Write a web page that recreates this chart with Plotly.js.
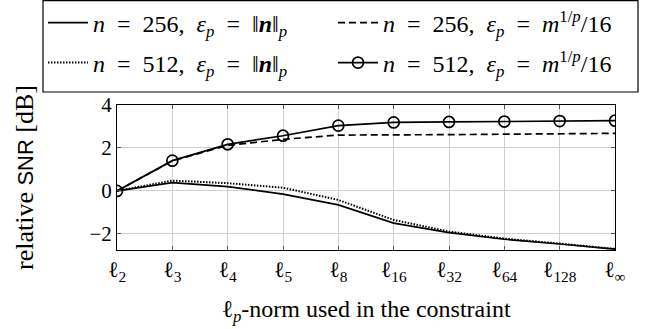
<!DOCTYPE html>
<html><head><meta charset="utf-8">
<script src="https://cdn.plot.ly/plotly-3.0.1.min.js"></script>
<style>body{margin:0;background:#fff}</style></head>
<body><div id="chart" style="width:649px;height:329px"></div>
<script>
const categories = ['l2','l3','l4','l5','l8','l16','l32','l64','l128','linf'];
const tickLabels = ['ℓ<sub>2</sub>','ℓ<sub>3</sub>','ℓ<sub>4</sub>','ℓ<sub>5</sub>','ℓ<sub>8</sub>','ℓ<sub>16</sub>','ℓ<sub>32</sub>','ℓ<sub>64</sub>','ℓ<sub>128</sub>','ℓ<sub>∞</sub>'];
const n256Norm = [0, 0.39, 0.20, -0.15, -0.65, -1.50, -1.94, -2.25, -2.47, -2.71];
const n256Root = [0, 1.40, 2.12, 2.40, 2.60, 2.60, 2.62, 2.64, 2.66, 2.68];
const n512Norm = [0, 0.48, 0.36, 0.15, -0.42, -1.35, -1.89, -2.22, -2.45, -2.70];
const n512Root = [0, 1.41, 2.17, 2.57, 3.04, 3.19, 3.21, 3.23, 3.25, 3.27];
const S = '\u2002'; // en space, mimics TeX math spacing
const seriesNames = [
  '<i>n</i>' + S + '=' + S + '256,' + S + '<i>ε<sub>p</sub></i>' + S + '=' + S + '‖<b><i>n</i></b>‖<sub><i>p</i></sub>',
  '<i>n</i>' + S + '=' + S + '256,' + S + '<i>ε<sub>p</sub></i>' + S + '=' + S + '<i>m</i><sup>1/<i>p</i></sup>/16',
  '<i>n</i>' + S + '=' + S + '512,' + S + '<i>ε<sub>p</sub></i>' + S + '=' + S + '‖<b><i>n</i></b>‖<sub><i>p</i></sub>',
  '<i>n</i>' + S + '=' + S + '512,' + S + '<i>ε<sub>p</sub></i>' + S + '=' + S + '<i>m</i><sup>1/<i>p</i></sup>/16'
];
const serif = '"Liberation Serif", "Times New Roman", serif';
const sans = "'Liberation Sans', Arial, sans-serif";
const serifSpan = "'Liberation Serif', serif";
const traces = [
  {x: categories, y: n256Norm, name: seriesNames[0], legend: 'legend', mode: 'lines', line: {color: '#000', width: 1.7}},
  {x: categories, y: n256Root, name: seriesNames[1], legend: 'legend', mode: 'lines', line: {color: '#000', width: 1.7, dash: '7px,4px'}},
  {x: categories, y: n512Norm, name: seriesNames[2], legend: 'legend2', mode: 'lines', line: {color: '#000', width: 2, dash: '1.5px,1.5px'}},
  {x: categories, y: n512Root, name: seriesNames[3], legend: 'legend2', mode: 'lines+markers', line: {color: '#000', width: 1.7},
   marker: {symbol: 'circle-open', size: 11, color: '#000', line: {width: 1.7, color: '#000'}}}
];
function legendRow(yCenter) {
  return {
    orientation: 'h', xref: 'paper', yref: 'paper',
    x: (43 - 117) / 498, xanchor: 'left', y: (250 - yCenter) / 145, yanchor: 'middle',
    entrywidth: 235, entrywidthmode: 'pixels',
    borderwidth: 0, bgcolor: 'rgba(0,0,0,0)',
    font: {family: serif, size: 24, color: '#000'},
    itemwidth: 40
  };
}
const layout = {
  width: 649, height: 329,
  margin: {l: 117, r: 34, t: 105, b: 79, autoexpand: false},
  paper_bgcolor: '#fff', plot_bgcolor: '#fff',
  font: {family: serif, size: 20, color: '#000'},
  showlegend: true,
  legend: legendRow(23),
  legend2: legendRow(63),
  shapes: [{type: 'rect', xref: 'paper', yref: 'paper',
    x0: (43 - 117) / 498, x1: (638 - 117) / 498, y0: (250 - 92) / 145, y1: (250 - 0.6) / 145,
    line: {color: '#000', width: 1.2}, fillcolor: 'rgba(0,0,0,0)', layer: 'above'}],
  xaxis: {
    type: 'category', range: [0, 9], tickvals: categories, ticktext: tickLabels,
    showgrid: true, gridcolor: '#cfcfcf', gridwidth: 1, automargin: false,
    showline: true, linecolor: '#000', linewidth: 1, mirror: 'ticks',
    ticks: 'inside', ticklen: 4, tickcolor: '#555',
    tickfont: {family: serif, size: 22}, zeroline: false,
    title: {text: 'ℓ<sub><i>p</i></sub>-norm used in the constraint', font: {family: serif, size: 24}, standoff: 16}
  },
  yaxis: {
    range: [-2.75, 4], tickvals: [-2, 0, 2, 4], automargin: false,
    showgrid: true, gridcolor: '#cfcfcf', gridwidth: 1,
    showline: true, linecolor: '#000', linewidth: 1, mirror: 'ticks',
    ticks: 'inside', ticklen: 4, tickcolor: '#555',
    tickfont: {family: serif, size: 21}, zeroline: false,
    title: {text: '<span style="font-family:' + serifSpan + '">relative </span><span style="font-family:' + sans + ';font-size:22px">SNR</span><span style="font-family:' + serifSpan + '"> [dB]</span>',
            font: {family: serif, size: 26}, standoff: 48}
  }
};
Plotly.newPlot('chart', traces, layout, {displayModeBar: false, staticPlot: true});
</script></body></html>
